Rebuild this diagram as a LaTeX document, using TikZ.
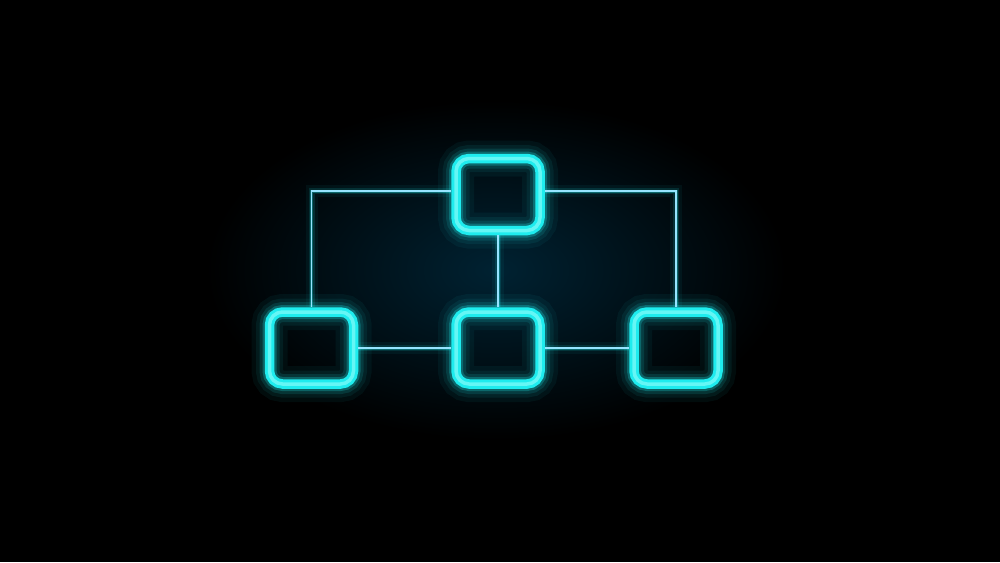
\documentclass[tikz,border=0pt]{standalone}
\usepackage{tikz}
\definecolor{neon}{RGB}{30,236,238}
\definecolor{neoncore}{RGB}{160,255,252}
\definecolor{wirecol}{RGB}{150,228,255}
\definecolor{haze}{RGB}{0,34,50}

\begin{document}
\begin{tikzpicture}[x=1pt,y=-1pt,
  neonbox/.style={draw=neon, line width=9.5pt, rounded corners=13pt,
    minimum width=84pt, minimum height=72pt, inner sep=0pt,
    preaction={draw=neon, line width=36pt, opacity=0.05},
    preaction={draw=neon, line width=27pt, opacity=0.07},
    preaction={draw=neon, line width=20pt, opacity=0.12},
    preaction={draw=neon, line width=14pt, opacity=0.25},
    postaction={draw=neoncore, line width=3.5pt, opacity=0.55}},
  wire/.style={draw=wirecol, line width=1.4pt,
    preaction={draw=neon, line width=12pt, opacity=0.05},
    preaction={draw=neon, line width=6pt, opacity=0.12},
    preaction={draw=neon, line width=3pt, opacity=0.3}}]
\fill [black] (0,0) rectangle (1000,562);
\useasboundingbox (0,0) rectangle (1000,562);
\shade [inner color=haze, outer color=black] (496,270) ellipse (290 and 170);
\node [neonbox] (top) at (498,194.5) {};
\node [neonbox] (lft) at (311.5,348) {};
\node [neonbox] (mid) at (498,348) {};
\node [neonbox] (rgt) at (676,348) {};
\draw [wire] ([yshift=3.5pt]top.west) -| (lft.north);
\draw [wire] ([yshift=3.5pt]top.east) -| (rgt.north);
\draw [wire] (top.south) -- (mid.north);
\draw [wire] (lft.east) -- (mid.west);
\draw [wire] (mid.east) -- (rgt.west);
\end{tikzpicture}
\end{document}
